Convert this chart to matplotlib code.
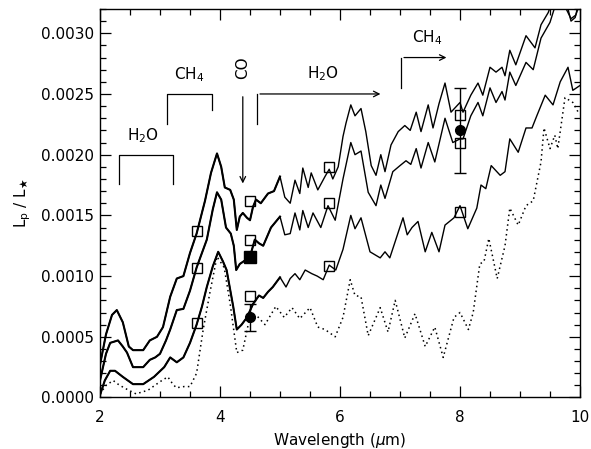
import numpy as np
import matplotlib
matplotlib.use('Agg')
import matplotlib.pyplot as plt
from matplotlib.ticker import MultipleLocator, FormatStrFormatter

plt.rcParams['font.family'] = ['DejaVu Sans']
plt.rcParams['mathtext.fontset'] = 'dejavusans'

# model curves (wavelength in micron, Lp/L* in units of 1e-3)
wl_top = [2.00, 2.10, 2.20, 2.28, 2.38, 2.48, 2.55, 2.72, 2.83, 2.95, 3.05, 3.17, 3.28, 3.39,
          3.50, 3.61, 3.75, 3.85, 3.95, 4.02, 4.08, 4.17, 4.23, 4.28, 4.33, 4.38, 4.45, 4.50,
          4.55, 4.60, 4.68, 4.80, 4.90, 5.00, 5.08, 5.17, 5.25, 5.33, 5.38, 5.47, 5.52, 5.63,
          5.75, 5.82, 5.88, 5.97, 6.05, 6.10, 6.18, 6.25, 6.35, 6.43, 6.52, 6.60, 6.68, 6.75,
          6.85, 6.97, 7.08, 7.17, 7.27, 7.35, 7.47, 7.55, 7.65, 7.75, 7.85, 8.00, 8.05, 8.18,
          8.30, 8.38, 8.50, 8.60, 8.70, 8.75, 8.83, 8.93, 9.10, 9.25, 9.35, 9.47, 9.60, 9.75,
          9.85, 9.92, 10.0]
lp_top = [0.27, 0.52, 0.68, 0.72, 0.62, 0.42, 0.39, 0.39, 0.47, 0.50, 0.58, 0.83, 0.98, 1.00,
          1.19, 1.35, 1.62, 1.85, 2.01, 1.90, 1.73, 1.71, 1.63, 1.38, 1.49, 1.52, 1.48, 1.46,
          1.57, 1.63, 1.60, 1.68, 1.70, 1.82, 1.65, 1.60, 1.79, 1.68, 1.89, 1.73, 1.85, 1.71,
          1.82, 1.88, 1.80, 1.90, 2.15, 2.26, 2.41, 2.32, 2.38, 2.19, 1.91, 1.83, 2.00, 1.86,
          2.08, 2.19, 2.24, 2.20, 2.35, 2.19, 2.41, 2.22, 2.42, 2.59, 2.35, 2.43, 2.35, 2.49,
          2.59, 2.49, 2.72, 2.68, 2.72, 2.65, 2.86, 2.74, 2.98, 2.88, 3.07, 3.17, 3.35, 3.30,
          3.10, 3.13, 3.30]

wl_mid = [2.00, 2.10, 2.17, 2.30, 2.38, 2.45, 2.55, 2.72, 2.83, 2.92, 3.00, 3.10, 3.17, 3.28,
          3.39, 3.50, 3.61, 3.78, 3.88, 3.95, 4.02, 4.10, 4.18, 4.23, 4.27, 4.33, 4.42, 4.50,
          4.58, 4.65, 4.72, 4.85, 5.00, 5.08, 5.17, 5.25, 5.33, 5.38, 5.47, 5.55, 5.68, 5.80,
          5.92, 6.05, 6.18, 6.25, 6.35, 6.47, 6.60, 6.68, 6.75, 6.88, 7.00, 7.10, 7.18, 7.27,
          7.35, 7.47, 7.58, 7.75, 7.88, 8.00, 8.05, 8.18, 8.30, 8.38, 8.50, 8.60, 8.70, 8.75,
          8.83, 8.93, 9.10, 9.22, 9.35, 9.50, 9.62, 9.72, 9.85, 9.93, 10.0]
lp_mid = [0.14, 0.36, 0.45, 0.47, 0.42, 0.37, 0.25, 0.25, 0.31, 0.33, 0.36, 0.47, 0.56, 0.72,
          0.73, 0.88, 1.07, 1.30, 1.55, 1.69, 1.63, 1.40, 1.35, 1.25, 1.05, 1.10, 1.13, 1.16,
          1.30, 1.27, 1.25, 1.40, 1.49, 1.34, 1.35, 1.52, 1.38, 1.54, 1.40, 1.52, 1.40, 1.58,
          1.46, 1.80, 2.10, 2.00, 2.03, 1.69, 1.58, 1.75, 1.64, 1.86, 1.91, 1.95, 1.92, 2.05,
          1.89, 2.10, 1.94, 2.30, 2.10, 2.13, 2.13, 2.32, 2.43, 2.32, 2.55, 2.43, 2.52, 2.45,
          2.68, 2.57, 2.76, 2.70, 2.96, 3.09, 3.28, 3.25, 3.12, 3.15, 3.25]

wl_low = [2.00, 2.08, 2.17, 2.25, 2.38, 2.55, 2.72, 2.90, 3.07, 3.17, 3.28, 3.39, 3.50, 3.61,
          3.70, 3.78, 3.88, 3.97, 4.05, 4.11, 4.22, 4.28, 4.36, 4.45, 4.55, 4.65, 4.72, 4.80,
          4.88, 5.00, 5.10, 5.17, 5.25, 5.33, 5.42, 5.53, 5.62, 5.72, 5.82, 5.93, 6.05, 6.18,
          6.25, 6.35, 6.50, 6.67, 6.75, 6.83, 6.97, 7.05, 7.12, 7.20, 7.30, 7.42, 7.53, 7.65,
          7.75, 7.90, 8.00, 8.13, 8.28, 8.35, 8.43, 8.52, 8.67, 8.75, 8.83, 8.97, 9.10, 9.20,
          9.28, 9.42, 9.55, 9.67, 9.80, 9.88, 10.0]
lp_low = [0.02, 0.14, 0.22, 0.22, 0.17, 0.11, 0.11, 0.17, 0.25, 0.33, 0.29, 0.33, 0.45, 0.60,
          0.75, 0.91, 1.08, 1.20, 1.12, 1.05, 0.75, 0.56, 0.60, 0.66, 0.77, 0.84, 0.82, 0.87,
          0.91, 0.99, 0.91, 0.98, 1.02, 0.97, 1.05, 1.02, 1.00, 0.97, 1.09, 1.05, 1.22, 1.50,
          1.39, 1.48, 1.20, 1.15, 1.20, 1.15, 1.36, 1.48, 1.34, 1.40, 1.45, 1.20, 1.36, 1.20,
          1.42, 1.48, 1.58, 1.39, 1.56, 1.75, 1.72, 1.91, 1.83, 1.86, 2.13, 2.02, 2.22, 2.22,
          2.32, 2.49, 2.41, 2.60, 2.72, 2.53, 2.57]

wl_dot = [2.00, 2.10, 2.22, 2.30, 2.40, 2.60, 2.80, 3.00, 3.13, 3.20, 3.27, 3.40, 3.50, 3.61,
          3.72, 3.83, 3.95, 4.07, 4.17, 4.28, 4.38, 4.50, 4.62, 4.75, 4.93, 5.07, 5.20, 5.33,
          5.50, 5.63, 5.75, 5.92, 6.05, 6.17, 6.25, 6.35, 6.47, 6.67, 6.80, 6.92, 7.08, 7.25,
          7.42, 7.58, 7.72, 7.90, 8.00, 8.14, 8.22, 8.33, 8.40, 8.48, 8.62, 8.75, 8.83, 8.97,
          9.10, 9.22, 9.35, 9.40, 9.50, 9.58, 9.63, 9.75, 9.88, 9.97]
lp_dot = [0.03, 0.10, 0.14, 0.11, 0.08, 0.03, 0.06, 0.13, 0.17, 0.12, 0.08, 0.09, 0.09, 0.20,
          0.56, 0.86, 1.16, 1.07, 0.77, 0.37, 0.39, 0.67, 0.67, 0.60, 0.75, 0.66, 0.74, 0.65,
          0.74, 0.58, 0.56, 0.50, 0.66, 0.97, 0.84, 0.83, 0.51, 0.74, 0.54, 0.80, 0.49, 0.69,
          0.42, 0.58, 0.33, 0.66, 0.70, 0.56, 0.70, 1.10, 1.12, 1.31, 0.98, 1.25, 1.56, 1.42,
          1.58, 1.62, 1.94, 2.22, 2.05, 2.16, 2.05, 2.47, 2.43, 2.35]

# band-averaged model values (open squares)
sq_wl = [3.61, 3.61, 3.61, 4.50, 4.50, 4.50, 5.82, 5.82, 5.82, 8.00, 8.00, 8.00]
sq_lp = [1.37, 1.07, 0.61, 1.62, 1.30, 0.84, 1.90, 1.60, 1.08, 2.33, 2.10, 1.53]

# observations
obs_wl = [4.50, 8.00]
obs_lp = [0.66, 2.20]
obs_err = [0.11, 0.35]
fill_sq_wl = [4.50]
fill_sq_lp = [1.16]

scale = 1e-3

fig = plt.figure(figsize=(5.91, 4.49), dpi=100)
ax = fig.add_axes([0.1692, 0.1147, 0.8122, 0.8653])

for wl, lp in [(wl_top, lp_top), (wl_mid, lp_mid), (wl_low, lp_low)]:
    wl = np.array(wl)
    lp = np.array(lp) * scale
    ax.plot(wl, lp, color='black', lw=1.0, solid_joinstyle='round')
    m = wl <= 5.0
    ax.plot(wl[m], lp[m], color='black', lw=1.5, solid_joinstyle='round')

ax.plot(wl_dot, np.array(lp_dot) * scale, color='black', lw=1.1, ls=(0, (1, 2.2)))

ax.plot(sq_wl, np.array(sq_lp) * scale, ls='none', marker='s', ms=7,
        mfc='none', mec='black', mew=1.0)
ax.plot(fill_sq_wl, np.array(fill_sq_lp) * scale, ls='none', marker='s', ms=8,
        mfc='black', mec='black')
ax.errorbar(obs_wl, np.array(obs_lp) * scale, yerr=np.array(obs_err) * scale,
            fmt='o', color='black', ms=7, capsize=4, elinewidth=1.0, capthick=1.0)

# absorption band markers
lc = dict(color='black', lw=0.9)
ax.plot([2.32, 2.32, 3.22, 3.22], [0.00176, 0.0020, 0.0020, 0.00176], **lc)
ax.text(2.72, 0.00216, r'H$_2$O', ha='center', va='center', fontsize=11)
ax.plot([3.12, 3.12, 3.87, 3.87], [0.00225, 0.0025, 0.0025, 0.00237], **lc)
ax.text(3.48, 0.00266, r'CH$_4$', ha='center', va='center', fontsize=11)
ax.annotate('', xy=(4.38, 0.00174), xytext=(4.38, 0.0025),
            arrowprops=dict(arrowstyle='->', color='black', lw=0.9))
ax.text(4.38, 0.00272, 'CO', rotation=90, ha='center', va='center', fontsize=11)
ax.plot([4.62, 4.62], [0.00225, 0.0025], **lc)
ax.annotate('', xy=(6.72, 0.0025), xytext=(4.62, 0.0025),
            arrowprops=dict(arrowstyle='->', color='black', lw=0.9))
ax.text(5.72, 0.00267, r'H$_2$O', ha='center', va='center', fontsize=11)
ax.plot([7.02, 7.02], [0.00255, 0.0028], **lc)
ax.annotate('', xy=(7.82, 0.0028), xytext=(7.02, 0.0028),
            arrowprops=dict(arrowstyle='->', color='black', lw=0.9))
ax.text(7.45, 0.00296, r'CH$_4$', ha='center', va='center', fontsize=11)

ax.set_xlim(2, 10)
ax.set_ylim(0, 0.0032)
ax.xaxis.set_major_locator(MultipleLocator(2))
ax.xaxis.set_minor_locator(MultipleLocator(0.5))
ax.yaxis.set_major_locator(MultipleLocator(0.0005))
ax.yaxis.set_minor_locator(MultipleLocator(0.0001))
ax.yaxis.set_major_formatter(FormatStrFormatter('%.4f'))
ax.tick_params(which='both', direction='in', top=True, right=True, labelsize=11, width=0.9)
ax.tick_params(which='major', length=8)
ax.tick_params(which='minor', length=4)
ax.tick_params(axis='x', pad=9)
ax.tick_params(axis='y', pad=4)
for s in ax.spines.values():
    s.set_linewidth(1.0)

ax.set_xlabel(r'Wavelength ($\mu$m)', fontsize=11, labelpad=4)
ax.set_ylabel(r'L$_\mathrm{p}$ / L$_\bigstar$', fontsize=11, labelpad=6)

fig.savefig('out.png', dpi=100)
